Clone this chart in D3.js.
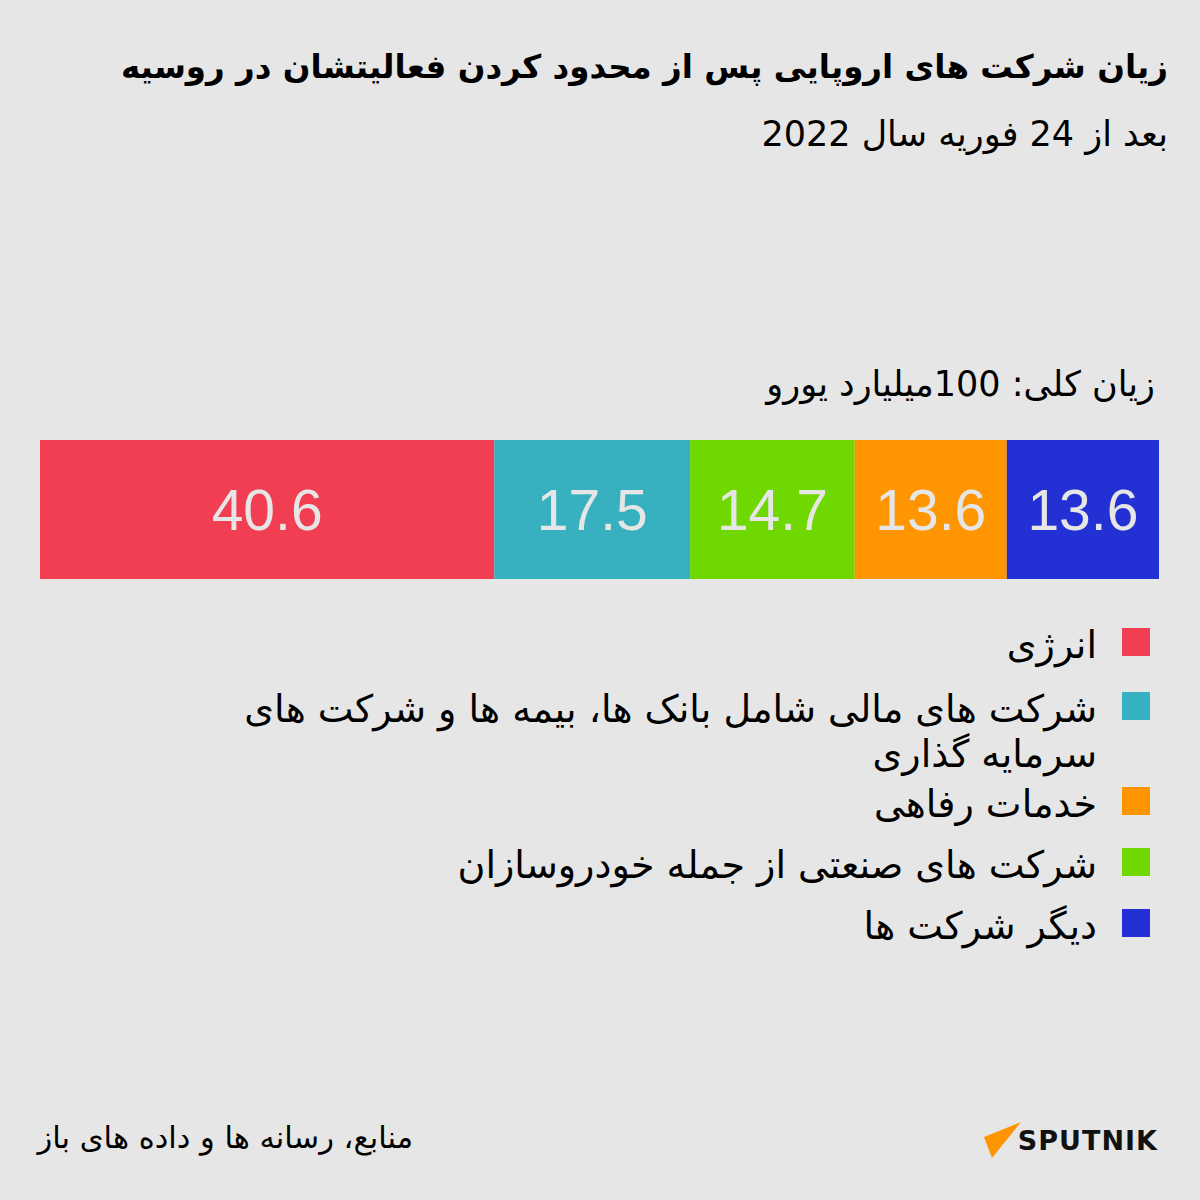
<!DOCTYPE html>
<html><head><meta charset="utf-8">
<script src="https://cdn.jsdelivr.net/npm/d3@7"></script>
<style>
html,body{margin:0;padding:0;background:#e6e6e6;}
svg{display:block;}
</style></head>
<body>
<script>
// Data
const titleText = "زیان شرکت های اروپایی پس از محدود کردن فعالیتشان در روسیه";
const subtitleText = "بعد از 24 فوریه سال 2022";
const totalText = "زیان کلی: 100میلیارد یورو";
const sourceText = "منابع، رسانه ها و داده های باز";
const categories = ["انرژی", "شرکت های مالی شامل بانک ها، بیمه ها و شرکت های\nسرمایه گذاری", "شرکت های صنعتی از جمله خودروسازان", "خدمات رفاهی", "دیگر شرکت ها"];
const values = [40.6, 17.5, 14.7, 13.6, 13.6];
const palette = ["#f23e52", "#37b0bf", "#6fd800", "#ff9500", "#2330d4"];
const legendOrder = [0, 1, 3, 2, 4];

const W = 1200, H = 1200;
const svg = d3.select("body").append("svg").attr("width", W).attr("height", H);
svg.append("rect").attr("width", W).attr("height", H).attr("fill", "#e6e6e6");

const fa = "'DejaVu Sans', 'Noto Sans', sans-serif";

svg.append("text").attr("x", 1168).attr("y", 78)
  .attr("direction", "rtl").attr("text-anchor", "start")
  .attr("font-family", fa).attr("font-weight", "bold").attr("font-size", 32.5)
  .attr("fill", "#000").text(titleText);

svg.append("text").attr("x", 1168).attr("y", 146)
  .attr("direction", "rtl").attr("text-anchor", "start")
  .attr("font-family", fa).attr("font-size", 35)
  .attr("fill", "#000").text(subtitleText);

svg.append("text").attr("x", 1155).attr("y", 396)
  .attr("direction", "rtl").attr("text-anchor", "start")
  .attr("font-family", fa).attr("font-size", 35)
  .attr("fill", "#000").text(totalText);

// Stacked bar
const total = d3.sum(values);
const x = d3.scaleLinear().domain([0, total]).range([40, 1159]);
const y = d3.scaleBand().domain(["all"]).range([440, 579]).padding(0);
const cum = d3.cumsum(values);
const segs = values.map((v, i) => ({v, i, x0: cum[i] - v, x1: cum[i]}));

const g = svg.append("g");
g.selectAll("rect.seg").data(segs).join("rect").attr("class", "seg")
  .attr("x", d => x(d.x0)).attr("width", d => x(d.x1) - x(d.x0))
  .attr("y", y("all")).attr("height", y.bandwidth())
  .attr("fill", d => palette[d.i]);

g.selectAll("text.val").data(segs).join("text").attr("class", "val")
  .attr("x", d => (x(d.x0) + x(d.x1)) / 2)
  .attr("y", y("all") + y.bandwidth() / 2 + 20)
  .attr("text-anchor", "middle")
  .attr("font-family", "'Liberation Sans', Arial, sans-serif")
  .attr("font-size", 57)
  .attr("fill", "#e6e6e6")
  .text(d => d3.format(".1f")(d.v));

// Legend
const legendY = [658, 722, 817, 878, 939];
const lg = svg.append("g");
legendOrder.forEach((ci, k) => {
  const yy = legendY[k];
  lg.append("rect").attr("x", 1122).attr("y", yy - 30).attr("width", 28).attr("height", 28)
    .attr("fill", palette[ci]);
  const lines = categories[ci].split("\n");
  const t = lg.append("text").attr("direction", "rtl").attr("text-anchor", "start")
    .attr("font-family", fa).attr("font-size", 38).attr("fill", "#000");
  lines.forEach((ln, j) => {
    t.append("tspan").attr("x", 1097).attr("y", yy + j * 45).text(ln);
  });
});

// Source
svg.append("text").attr("x", 413).attr("y", 1148)
  .attr("direction", "rtl").attr("text-anchor", "start")
  .attr("font-family", fa).attr("font-size", 30.5)
  .attr("fill", "#000").text(sourceText);

// Logo
svg.append("path").attr("d", "M984,1137 L1021,1122 L992,1158 Z").attr("fill", "#ff9500");
svg.append("text").attr("x", 1158).attr("y", 1150).attr("text-anchor", "end")
  .attr("font-family", "'DejaVu Sans', sans-serif").attr("font-weight", "bold")
  .attr("font-size", 27).attr("fill", "#111").attr("letter-spacing", 1).text("SPUTNIK");
</script>
</body></html>
